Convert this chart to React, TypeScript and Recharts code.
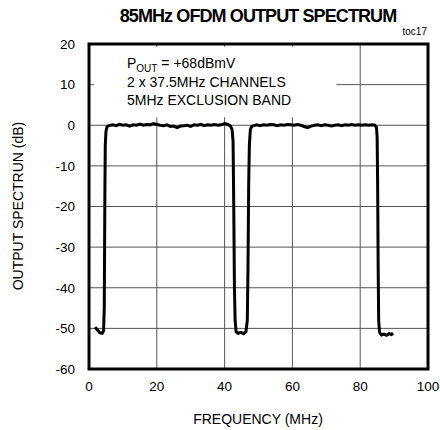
import React from 'react'
import { LineChart, Line, XAxis, YAxis, CartesianGrid, ReferenceArea } from 'recharts'

// output spectrum trace, [frequency MHz, level dB]
const spectrum: [number, number][] = [
  [1.8, -49.7], [2.5, -50.4], [3.2, -51.1], [3.9, -51.2], [4.3, -50.6],
  [4.5, -45], [4.6, -30], [4.7, -15], [4.8, -5], [5.0, -1.5], [5.3, -0.4], [5.8, -0.1],
  [7, 0.1], [8, -0.1], [9, 0.2], [10, 0], [11, 0.1], [12, -0.2], [13, 0.1], [14, 0],
  [15, 0.3], [16, 0], [17, 0.2], [18, 0.1], [19, 0.4], [20, 0.2], [21, 0], [22, -0.1],
  [23, 0.1], [24, -0.3], [25, -0.2], [26, -0.6], [27, -0.2], [28, -0.1], [29, 0],
  [30, -0.3], [31, 0.1], [32, 0], [33, 0.2], [34, -0.1], [35, 0.1], [36, 0], [37, 0.2],
  [38, 0], [39, 0.1], [40, 0.4], [41, 0.2], [41.7, -0.2],
  [42.2, -1], [42.5, -4], [42.7, -20], [42.9, -40], [43.1, -48], [43.4, -50.8],
  [44, -51.2], [44.8, -51], [45.6, -51.3], [46.3, -50.8],
  [46.7, -48], [46.9, -35], [47.1, -15], [47.3, -5], [47.6, -1], [48, -0.3], [48.6, -0.1],
  [49.5, 0.1], [50.5, -0.1], [51.5, 0.1], [52.5, 0], [53.5, 0.2], [54.5, 0.1], [55.5, -0.1],
  [56.5, 0.1], [57.5, 0], [58.5, 0.2], [59.5, 0.1], [60.5, 0], [61.5, 0.2], [62.5, 0],
  [63.5, -0.3], [64.5, -0.6], [65.5, -0.2], [66.5, 0], [67.5, 0.1], [68.5, -0.1], [69.5, 0.1],
  [70.5, 0], [71.5, -0.2], [72.5, 0], [73.5, 0.1], [74.5, -0.1], [75.5, 0.1], [76.5, 0],
  [77.5, 0.2], [78.5, 0], [79.5, 0.1], [80.5, 0], [81.5, 0.1], [82.5, 0], [83.5, 0.1],
  [84.3, 0], [84.8, -0.5], [85.0, -3], [85.15, -15], [85.3, -35], [85.45, -48], [85.7, -51],
  [86.3, -51.6], [87, -51.4], [87.8, -51.7], [88.5, -51.3], [89.2, -51.5], [89.7, -51.2],
]

const xTicks = [0, 20, 40, 60, 80, 100]
const yTicks = [-60, -50, -40, -30, -20, -10, 0, 10, 20]

const notes = ['= +68dBmV', '2 x 37.5MHz CHANNELS', '5MHz EXCLUSION BAND']

const data = spectrum.map(([f, db]) => ({ f, db }))

const font = "'Liberation Sans', Arial, sans-serif"
const tickStyle = { fontSize: 13.5, fill: '#000', fontFamily: font }

export default function App() {
  return (
    <div style={{ position: 'absolute', left: 0, top: 0, width: 440, height: 430, background: '#fff' }}>
      <LineChart width={440} height={430} data={data} margin={{ top: 44, right: 12, bottom: 21, left: 0 }}>
        <CartesianGrid stroke="#555" strokeWidth={1} horizontalValues={yTicks} verticalValues={xTicks} />
        {/* white panel behind the notes */}
        <ReferenceArea x1={1.5} x2={73} y1={2} y2={19.3} fill="#fff" fillOpacity={1} stroke="none" />
        <XAxis
          dataKey="f"
          type="number"
          domain={[0, 100]}
          ticks={xTicks}
          axisLine={false}
          tickLine={false}
          tickSize={0}
          tickMargin={12}
          height={40}
          tick={tickStyle}
        />
        <YAxis
          type="number"
          domain={[-60, 20]}
          ticks={yTicks}
          axisLine={false}
          tickLine={false}
          tickSize={0}
          tickMargin={14}
          width={89}
          tick={tickStyle}
        />
        <Line dataKey="db" type="linear" stroke="#000" strokeWidth={3} dot={false} isAnimationActive={false} />
      </LineChart>
      <svg width={440} height={430} style={{ position: 'absolute', left: 0, top: 0, pointerEvents: 'none' }}>
        {/* plot frame */}
        <rect x={89} y={44} width={339} height={325} fill="none" stroke="#000" strokeWidth={3} />
        <text x={258} y={22} fontFamily={font} fontWeight="bold" fontSize={18} letterSpacing={-0.9} textAnchor="middle">
          85MHz OFDM OUTPUT SPECTRUM
        </text>
        <text x={427} y={35} fontFamily={font} fontSize={10} textAnchor="end">toc17</text>
        <text x={127} y={68} fontFamily={font} fontSize={14}>
          P<tspan fontSize={10} dy={4}>OUT</tspan><tspan dy={-4}> {notes[0]}</tspan>
        </text>
        <text x={127} y={87} fontFamily={font} fontSize={14}>{notes[1]}</text>
        <text x={127} y={105} fontFamily={font} fontSize={14}>{notes[2]}</text>
        <text x={258} y={424} fontFamily={font} fontSize={14} textAnchor="middle">FREQUENCY (MHz)</text>
        <text x={23} y={206} fontFamily={font} fontSize={14} textAnchor="middle" transform="rotate(-90 23 206)">
          OUTPUT SPECTRUN (dB)
        </text>
      </svg>
    </div>
  )
}
